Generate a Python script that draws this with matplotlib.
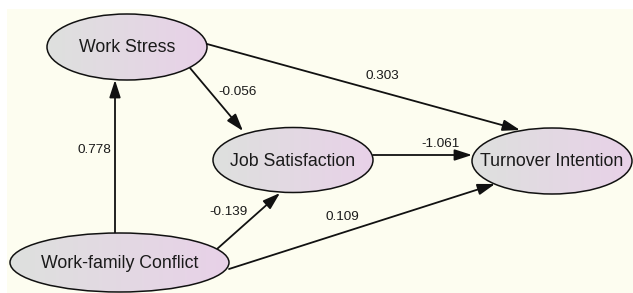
import matplotlib
matplotlib.use("Agg")
import matplotlib.pyplot as plt
import numpy as np
from matplotlib.patches import Ellipse, FancyArrowPatch, Rectangle

# --------------------------------------
# data : variables latentes et coefficients
# --------------------------------------
nodes = ["Work Stress", "Job Satisfaction", "Turnover Intention", "Work-family Conflict"]
edge_from = ["Work-family Conflict", "Work Stress", "Work Stress", "Job Satisfaction",
             "Work-family Conflict", "Work-family Conflict"]
edge_to = ["Work Stress", "Job Satisfaction", "Turnover Intention", "Turnover Intention",
           "Job Satisfaction", "Turnover Intention"]
coefs = [0.778, -0.056, 0.303, -1.061, -0.139, 0.109]

# --------------------------------------
# layout (pixels)
# --------------------------------------
node_center = {"Work Stress": (127, 47), "Job Satisfaction": (293, 160),
               "Turnover Intention": (552, 161), "Work-family Conflict": (119.5, 262.5)}
node_size = {"Work Stress": (160, 66), "Job Satisfaction": (160, 65),
             "Turnover Intention": (160, 66), "Work-family Conflict": (219, 59)}
edge_start = [(115, 233), (190, 68), (207, 44), (373, 155), (217, 249), (229, 269)]
edge_end = [(115, 80), (243, 131), (520, 130), (472, 155), (280, 193), (495, 184)]
label_pos = [(94, 150), (238, 92), (382, 76), (440, 144), (229, 212), (342, 217)]

W, H = 633, 293
fig = plt.figure(figsize=(W / 100, H / 100), dpi=100)
ax = fig.add_axes([0, 0, 1, 1])
ax.set_xlim(0, W)
ax.set_ylim(H, 0)
ax.axis("off")

# fond crème
ax.add_patch(Rectangle((7, 9), W - 7, H - 9, facecolor="#fdfdf0", edgecolor="none", zorder=0))

# dégradé gris -> rose
c_left = np.array([0.87, 0.88, 0.87])
c_right = np.array([0.91, 0.82, 0.91])
t = np.linspace(0, 1, 256)
grad = (c_left[None, :] * (1 - t[:, None]) + c_right[None, :] * t[:, None])[None, :, :]

for name in nodes:
    cx, cy = node_center[name]
    w, h = node_size[name]
    img = ax.imshow(grad, extent=(cx - w / 2, cx + w / 2, cy + h / 2, cy - h / 2),
                    aspect="auto", zorder=2, interpolation="bilinear")
    el = Ellipse((cx, cy), w, h, facecolor="none", edgecolor="#111111", lw=1.1, zorder=3)
    ax.add_patch(el)
    img.set_clip_path(el)
    ax.text(cx, cy + 1, name, ha="center", va="center", fontsize=12.8,
            family="Liberation Sans", color="#1a1a1a", zorder=4)

for i in range(len(coefs)):
    arr = FancyArrowPatch(edge_start[i], edge_end[i], arrowstyle="-|>,head_length=10.5,head_width=3.4",
                          mutation_scale=1, lw=1.3, color="#111111", shrinkA=0, shrinkB=0, zorder=1)
    ax.add_patch(arr)
    lx, ly = label_pos[i]
    ax.text(lx, ly, f"{coefs[i]:.3f}", ha="center", va="center", fontsize=9.7,
            family="Liberation Sans", color="#1a1a1a", zorder=4)

fig.savefig("out.png", dpi=100)
